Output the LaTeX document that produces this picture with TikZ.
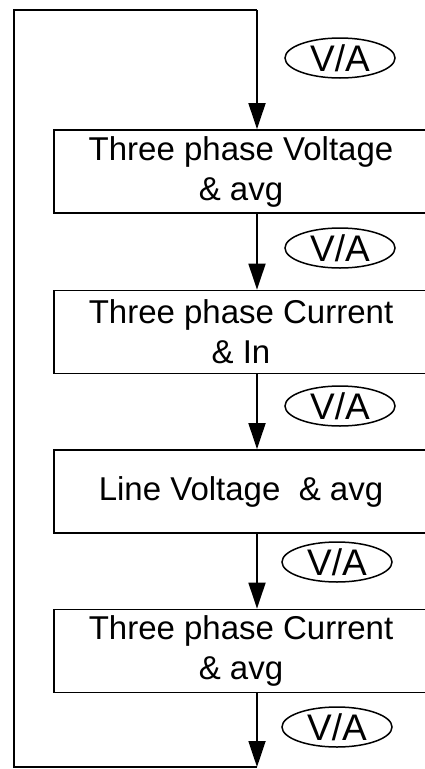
\documentclass[tikz,border=0pt]{standalone}
\usepackage{fontspec}
\setmainfont{Liberation Sans}
\usetikzlibrary{arrows.meta,shapes.geometric}

\begin{document}
\begin{tikzpicture}[
      x = 1pt, y = -1pt,
      font = \fontsize{33}{40}\selectfont,
      box/.style={
        draw,
        line width = 1.8pt,
        minimum width = 374pt,
        minimum height = 83pt,
        inner sep = 0pt,
        align = center,
      },
      tag/.style={
        draw,
        ellipse,
        line width = 1.5pt,
        minimum width = 110pt,
        minimum height = 40pt,
        inner sep = 0pt,
        font = \fontsize{37}{40}\selectfont,
      },
      arr/.style={
        line width = 1.8pt,
        -{Triangle[length=26pt, width=17pt]},
      },
    ]
    \useasboundingbox (0,0) rectangle (425,769);
    % readings, top to bottom
    \node[box] (volt) at (241,171.5) {Three phase Voltage\\\& avg};
    \node[box] (curr) at (241,332) {Three phase Current\\\& In};
    \node[box] (line) at (241,491.5) {Line Voltage\ \ \& avg};
    \node[box] (cavg) at (241,651) {Three phase Current\\\& avg};
    % V/A key
    \node[tag] (va1) at (340,58) {V/A};
    \node[tag] (va2) at (340,248) {V/A};
    \node[tag] (va3) at (340,406) {V/A};
    \node[tag] (va4) at (337,562) {V/A};
    \node[tag] (va5) at (337,727) {V/A};
    % loop back
    \coordinate (top) at (257,10);
    \coordinate (bot) at (257,767);
    \coordinate (bl) at (14,767);
    \draw[line width=1.8pt] (bot) -- (bl) |- (top);
    \draw[arr] (top) -- (volt.north -| top);
    \draw[arr] (volt.south -| top) -- (curr.north -| top);
    \draw[arr] (curr.south -| top) -- (line.north -| top);
    \draw[arr] (line.south -| top) -- (cavg.north -| top);
    \draw[arr] (cavg.south -| top) -- (bot);
  \end{tikzpicture}
\end{document}
